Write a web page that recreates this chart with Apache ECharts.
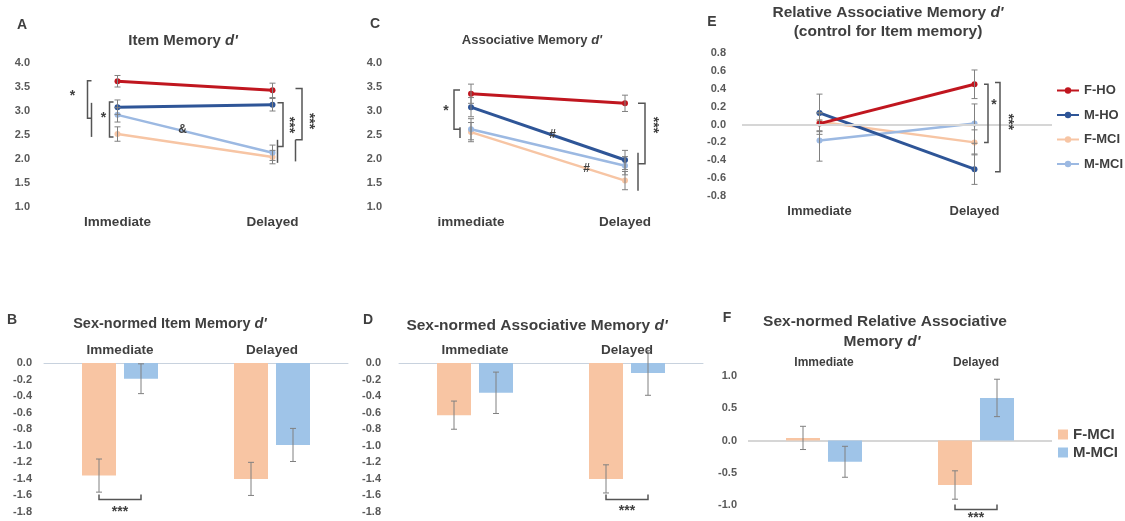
<!DOCTYPE html>
<html><head><meta charset="utf-8">
<script src="https://cdn.jsdelivr.net/npm/echarts@6/dist/echarts.min.js"></script>
<style>html,body{margin:0;padding:0;background:#fff}#c{width:1125px;height:521px}</style>
</head><body><div id="c"></div>
<script>
// ---------- DATA ----------
const catsA = ['Immediate', 'Delayed'];
const catsC = ['immediate', 'Delayed'];
const catsE = ['Immediate', 'Delayed'];
const catsBar = ['Immediate', 'Delayed'];
const groupNames = ['F-HO', 'M-HO', 'F-MCI', 'M-MCI'];
const barNames = ['F-MCI', 'M-MCI'];

const ticksA = [1.0, 4.0, 0.5];
const ticksE = [-0.8, 0.8, 0.2];
const ticksBD = [-1.8, 0.0, 0.2];
const ticksF = [-1.0, 1.0, 0.5];

// A: Item Memory d'
const itemFHO = [3.62, 3.43], itemFHOErr = [0.12, 0.15];
const itemMHO = [3.08, 3.13], itemMHOErr = [0.15, 0.13];
const itemFMCI = [2.52, 2.04], itemFMCIErr = [0.15, 0.14];
const itemMMCI = [2.92, 2.13], itemMMCIErr = [0.15, 0.16];
// C: Associative Memory d'
const assocFHO = [3.36, 3.16], assocFHOErr = [0.20, 0.17];
const assocMHO = [3.08, 1.98], assocMHOErr = [0.20, 0.20];
const assocFMCI = [2.56, 1.55], assocFMCIErr = [0.20, 0.19];
const assocMMCI = [2.62, 1.86], assocMMCIErr = [0.22, 0.19];
// E: Relative Associative Memory d'
const relFHO = [0.01, 0.45], relFHOErr = [0.12, 0.16];
const relMHO = [0.13, -0.50], relMHOErr = [0.21, 0.17];
const relFMCI = [0.03, -0.20], relFMCIErr = [0.10, 0.14];
const relMMCI = [-0.18, 0.01], relMMCIErr = [0.23, 0.22];
// B: Sex-normed Item Memory d'
const nItemFMCI = [-1.36, -1.40], nItemFMCIErr = [0.20, 0.20];
const nItemMMCI = [-0.19, -0.99], nItemMMCIErr = [0.18, 0.20];
// D: Sex-normed Associative Memory d'
const nAssocFMCI = [-0.63, -1.40], nAssocFMCIErr = [0.17, 0.17];
const nAssocMMCI = [-0.36, -0.12], nAssocMMCIErr = [0.25, 0.27];
// F: Sex-normed Relative Associative Memory d'
const nRelFMCI = [0.04, -0.69], nRelFMCIErr = [0.18, 0.22];
const nRelMMCI = [-0.33, 0.66], nRelMMCIErr = [0.24, 0.29];

// ---------- STYLE ----------
const FONT = '"Liberation Sans", Arial, sans-serif';
const TXT = '#3f3f3f';
const lineColor = {'F-HO': '#c0161f', 'M-HO': '#2e5597', 'F-MCI': '#f7c5a4', 'M-MCI': '#9cb9e2'};
const lineWidth = {'F-HO': 3, 'M-HO': 3, 'F-MCI': 2.5, 'M-MCI': 2.5};
const barColor = {'F-MCI': '#f8c5a3', 'M-MCI': '#9fc4e8'};
const ERR = '#808080';
const BAR_W = 34, BAR_GAP = 8;

const chart = echarts.init(document.getElementById('c'), null, {renderer: 'canvas'});

const grids = [
  {left: 40, top: 63, width: 310, height: 144},   // A
  {left: 394, top: 63, width: 308, height: 144},  // C
  {left: 742, top: 53, width: 310, height: 143},  // E
  {left: 44, top: 363, width: 304, height: 149},  // B
  {left: 399, top: 363, width: 304, height: 149}, // D
  {left: 748, top: 376, width: 304, height: 129}  // F
].map(g => Object.assign({containLabel: false, outerBoundsMode: 'none'}, g));

function catAxis(gi, data, pos, showLine, size, margin) {
  return {
    type: 'category', gridIndex: gi, data, position: pos,
    axisLine: {show: showLine, onZero: false, lineStyle: {color: '#c8d2de', width: 1}},
    axisTick: {show: false}, splitLine: {show: false},
    axisLabel: {color: TXT, fontFamily: FONT, fontWeight: 'bold', fontSize: size, margin, interval: 0}
  };
}
function valAxis(gi, t, margin) {
  return {
    type: 'value', gridIndex: gi, min: t[0], max: t[1], interval: t[2],
    axisLine: {show: false}, axisTick: {show: false}, splitLine: {show: false},
    axisLabel: {color: '#595959', fontFamily: FONT, fontWeight: 'bold', fontSize: 11, margin,
      formatter: v => (Math.abs(v) < 1e-9 ? 0 : v).toFixed(1)}
  };
}

const xAxes = [
  catAxis(0, catsA, 'bottom', false, 13.5, 8),
  catAxis(1, catsC, 'bottom', false, 13.5, 8),
  catAxis(2, catsE, 'bottom', false, 13, 9),
  catAxis(3, catsBar, 'top', true, 13.5, 6),
  catAxis(4, catsBar, 'top', true, 13.5, 6),
  catAxis(5, catsBar, 'top', false, 12, 7)
];
const yAxes = [
  valAxis(0, ticksA, 10), valAxis(1, ticksA, 12), valAxis(2, ticksE, 16),
  valAxis(3, ticksBD, 12), valAxis(4, ticksBD, 18), valAxis(5, ticksF, 11)
];

function errRender(offset) {
  return function (params, api) {
    const c = api.value(0), v = api.value(1), e = api.value(2);
    const t = api.coord([c, v + e]), b = api.coord([c, v - e]);
    const x = t[0] + offset, cap = 3;
    const st = {stroke: ERR, lineWidth: 1};
    return {type: 'group', children: [
      {type: 'line', shape: {x1: x, y1: t[1], x2: x, y2: b[1]}, style: st},
      {type: 'line', shape: {x1: x - cap, y1: t[1], x2: x + cap, y2: t[1]}, style: st},
      {type: 'line', shape: {x1: x - cap, y1: b[1], x2: x + cap, y2: b[1]}, style: st}
    ]};
  };
}
function errSeries(gi, vals, errs, offset) {
  return {type: 'custom', xAxisIndex: gi, yAxisIndex: gi, z: 4, silent: true,
    renderItem: errRender(offset), encode: {x: 0, y: 1},
    data: vals.map((v, i) => [i, v, errs[i]])};
}
function lineSeries(gi, name, vals, z) {
  return {type: 'line', name, xAxisIndex: gi, yAxisIndex: gi, data: vals, z,
    symbol: 'circle', symbolSize: 6, showSymbol: true,
    lineStyle: {width: lineWidth[name], color: lineColor[name]},
    itemStyle: {color: lineColor[name]}, emphasis: {disabled: true}};
}
function barSeries(gi, name, vals) {
  return {type: 'bar', name, xAxisIndex: gi, yAxisIndex: gi, data: vals,
    barWidth: BAR_W, barGap: (BAR_GAP / BAR_W * 100).toFixed(1) + '%',
    itemStyle: {color: barColor[name]}, emphasis: {disabled: true}};
}
const zeroLine = {silent: true, symbol: 'none', label: {show: false},
  lineStyle: {color: '#d6d6d6', width: 2, type: 'solid'}, data: [{yAxis: 0}]};

const lineSets = [
  [0, [itemFHO, itemMHO, itemFMCI, itemMMCI], [itemFHOErr, itemMHOErr, itemFMCIErr, itemMMCIErr]],
  [1, [assocFHO, assocMHO, assocFMCI, assocMMCI], [assocFHOErr, assocMHOErr, assocFMCIErr, assocMMCIErr]],
  [2, [relFHO, relMHO, relFMCI, relMMCI], [relFHOErr, relMHOErr, relFMCIErr, relMMCIErr]]
];
const zOrder = {'F-HO': 3.6, 'M-HO': 3.4, 'F-MCI': 3.0, 'M-MCI': 3.2};
const series = [];
lineSets.forEach(([gi, vals, errs]) => {
  groupNames.forEach((n, k) => {
    const s = lineSeries(gi, n, vals[k], zOrder[n]);
    if (gi === 2 && k === 0) s.markLine = zeroLine;
    series.push(s);
  });
});
lineSets.forEach(([gi, vals, errs]) => {
  groupNames.forEach((n, k) => series.push(errSeries(gi, vals[k], errs[k], 0)));
});
const barSets = [
  [3, [nItemFMCI, nItemMMCI], [nItemFMCIErr, nItemMMCIErr]],
  [4, [nAssocFMCI, nAssocMMCI], [nAssocFMCIErr, nAssocMMCIErr]],
  [5, [nRelFMCI, nRelMMCI], [nRelFMCIErr, nRelMMCIErr]]
];
const off = (BAR_W + BAR_GAP) / 2;
barSets.forEach(([gi, vals, errs]) => {
  barNames.forEach((n, k) => {
    const s = barSeries(gi, n, vals[k]);
    if (gi === 5 && k === 0) s.markLine = Object.assign({}, zeroLine, {z: 0});
    series.push(s);
    series.push(errSeries(gi, vals[k], errs[k], k === 0 ? -off : off));
  });
});

chart.setOption({
  animation: false,
  backgroundColor: '#ffffff',
  grid: grids,
  xAxis: xAxes,
  yAxis: yAxes,
  legend: [
    {data: groupNames, orient: 'vertical', left: 1051, top: 79, itemWidth: 22, itemHeight: 8, itemGap: 11.5,
      selectedMode: false, textStyle: {color: TXT, fontFamily: FONT, fontWeight: 'bold', fontSize: 13}},
    {data: barNames.map(n => ({name: n, icon: 'rect', itemStyle: {color: barColor[n]}})),
      orient: 'vertical', left: 1053, top: 422, itemWidth: 10, itemHeight: 10, itemGap: 3,
      selectedMode: false, textStyle: {color: TXT, fontFamily: FONT, fontWeight: 'bold', fontSize: 15}}
  ],
  series
});

// ---------- ANNOTATIONS (titles, panel letters, significance brackets) ----------
const G = [];
const STK = '#555555';
const P = (g, c, v) => chart.convertToPixel({gridIndex: g}, [c, v]);
function txt(x, y, text, size, rot) {
  G.push({type: 'text', x, y, rotation: rot || 0, silent: true, z: 10,
    style: {text, x: 0, y: 0, fill: TXT, fontSize: size, fontWeight: 'bold', fontFamily: FONT,
      align: 'center', verticalAlign: 'middle', textAlign: 'center', textVerticalAlign: 'middle',
      rich: {i: {fontStyle: 'italic', fontWeight: 'bold', fontSize: size, fontFamily: FONT, fill: TXT}}}});
}
function vbr(g, c, dx, v1, v2, tick) {
  const a = P(g, c, v1), b = P(g, c, v2), x = a[0] + dx;
  G.push({type: 'polyline', silent: true, z: 10,
    shape: {points: [[x + tick, a[1]], [x, a[1]], [x, b[1]], [x + tick, b[1]]]},
    style: {stroke: STK, lineWidth: 1.5, fill: null}});
}
function vln(g, c, dx, v1, v2) {
  const a = P(g, c, v1), b = P(g, c, v2), x = a[0] + dx;
  G.push({type: 'line', silent: true, z: 10, shape: {x1: x, y1: a[1], x2: x, y2: b[1]},
    style: {stroke: STK, lineWidth: 1.5}});
}
function hbr(g, c, dx1, dx2, v, tick) {
  const a = P(g, c, v), y = a[1];
  G.push({type: 'polyline', silent: true, z: 10,
    shape: {points: [[a[0] + dx1, y + tick], [a[0] + dx1, y], [a[0] + dx2, y], [a[0] + dx2, y + tick]]},
    style: {stroke: STK, lineWidth: 1.5, fill: null}});
}
function atxt(g, c, dx, v, text, size, rot) {
  const a = P(g, c, v);
  txt(a[0] + dx, a[1], text, size, rot);
}
function onLine(g, vals, t, dy, text, size) {
  const a = P(g, 0, vals[0]), b = P(g, 1, vals[1]);
  txt(a[0] + (b[0] - a[0]) * t, a[1] + (b[1] - a[1]) * t + dy, text, size);
}
const ROT = -Math.PI / 2;

// Panel letters and titles
txt(22, 25, 'A', 14); txt(183, 41, "Item Memory {i|d'}", 15);
txt(375, 24, 'C', 14); txt(532, 40, "Associative Memory {i|d'}", 13);
txt(712, 22, 'E', 14); txt(888, 13, "Relative Associative Memory {i|d'}", 15.5);
txt(888, 32, '(control for Item memory)', 15.5);
txt(12, 320, 'B', 14); txt(170, 324, "Sex-normed Item Memory {i|d'}", 14.5);
txt(368, 320, 'D', 14); txt(537, 326, "Sex-normed Associative Memory {i|d'}", 15.5);
txt(727, 318, 'F', 14); txt(885, 322, 'Sex-normed Relative Associative', 15.5);
txt(882, 342, "Memory {i|d'}", 15.5);

// Panel A brackets
vbr(0, 0, -30, 3.63, 2.85, 4); vln(0, 0, -26, 3.17, 2.46); atxt(0, 0, -45, 3.30, '*', 14);
vbr(0, 0, -8, 3.19, 2.46, 4); atxt(0, 0, -14, 2.86, '*', 14);
vbr(0, 1, 10.5, 3.17, 2.26, -5.5); vln(0, 1, 5, 2.40, 1.92); atxt(0, 1, 16.5, 2.71, '***', 14, ROT);
vbr(0, 1, 29.5, 3.47, 2.40, -6.5); vln(0, 1, 23, 2.40, 1.95); atxt(0, 1, 36, 2.79, '***', 14, ROT);
onLine(0, itemMMCI, 0.42, -1, '&', 12);
// Panel C brackets
vbr(1, 0, -17, 3.44, 2.62, 6); vln(1, 0, -11, 2.66, 2.44); atxt(1, 0, -25, 2.99, '*', 14);
onLine(1, assocMHO, 0.53, 0, '#', 12);
onLine(1, assocFMCI, 0.75, 0, '#', 12);
vbr(1, 1, 20, 3.16, 1.90, -7); vln(1, 1, 13, 2.13, 1.34); atxt(1, 1, 28, 2.71, '***', 14, ROT);
// Panel E brackets
vbr(2, 1, 13.5, 0.45, -0.20, -4); atxt(2, 1, 19.5, 0.22, '*', 14);
vbr(2, 1, 25.5, 0.47, -0.53, -5); atxt(2, 1, 33, 0.03, '***', 14, ROT);
// Panels B, D, F brackets
hbr(3, 0, -off, off, -1.65, -5); atxt(3, 0, 0, -1.80, '***', 14);
hbr(4, 1, -off, off, -1.65, -5); atxt(4, 1, 0, -1.79, '***', 14);
hbr(5, 1, -off, off, -1.07, -5); atxt(5, 1, 0, -1.20, '***', 14);

chart.setOption({graphic: {elements: G}});
</script>
</body></html>
